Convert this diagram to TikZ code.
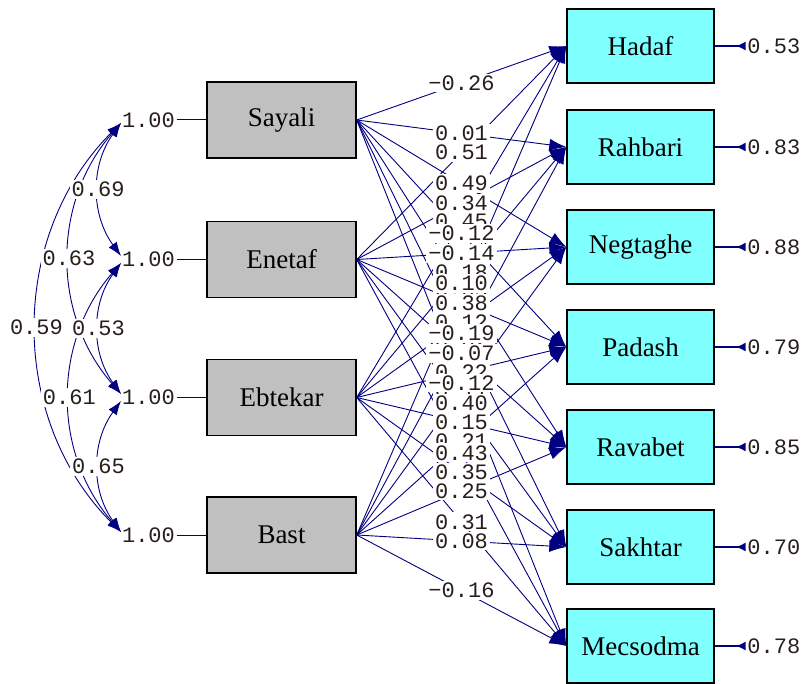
\documentclass[tikz,border=0pt]{standalone}
\usepackage{fontspec}
\setmainfont{Liberation Serif}
\newfontfamily\numfont{Liberation Mono}
\usetikzlibrary{arrows.meta}
\definecolor{navy}{RGB}{0,0,128}
\definecolor{boxgray}{RGB}{192,192,192}
\definecolor{boxcyan}{RGB}{128,255,255}
\definecolor{numtext}{RGB}{40,30,30}
\begin{document}
\begin{tikzpicture}[x=1pt,y=-1pt,
  srcbox/.style={draw=black,line width=1.4pt,fill=boxgray,minimum width=149pt,minimum height=76pt,inner sep=0pt,font=\fontsize{27}{30}\selectfont},
  tgtbox/.style={draw=black,line width=1.4pt,fill=boxcyan,minimum width=147pt,minimum height=74pt,inner sep=0pt,font=\fontsize{27}{30}\selectfont},
  numlabel/.style={font=\numfont\fontsize{22}{24}\selectfont,text=numtext,inner sep=1.5pt},
  plabel/.style={numlabel,fill=white,inner sep=2pt},
  pathline/.style={draw=navy,line width=0.9pt,-{Latex[length=17pt,width=12pt]}},
  covline/.style={draw=navy,line width=0.9pt,{Latex[length=14pt,width=10pt]}-{Latex[length=14pt,width=10pt]}},
  clabel/.style={numlabel,fill=white,inner sep=2pt},
  errline/.style={draw=navy,line width=1.6pt,{Latex[reversed,length=10pt,width=9pt]}-},
  varline/.style={draw=navy,line width=1pt}
]
\useasboundingbox (0,0) rectangle (806,684);

% source boxes
\node[srcbox] (S)  at (281.5,120)   {Sayali};
\node[srcbox] (E)  at (281.5,259.5) {Enetaf};
\node[srcbox] (Eb) at (281.5,397.5) {Ebtekar};
\node[srcbox] (B)  at (281.5,535)   {Bast};

% target boxes
\node[tgtbox] (H)  at (640.5,46)  {Hadaf};
\node[tgtbox] (R)  at (640.5,147) {Rahbari};
\node[tgtbox] (N)  at (640.5,247) {Negtaghe};
\node[tgtbox] (P)  at (640.5,347) {Padash};
\node[tgtbox] (Rv) at (640.5,447) {Ravabet};
\node[tgtbox] (Sk) at (640.5,547) {Sakhtar};
\node[tgtbox] (M)  at (640.5,646) {Mecsodma};

% variances
\foreach \v in {S,E,Eb,B}{
  \node[numlabel] (var\v) at ([xshift=-133pt]\v.center) {1.00};
  \draw[varline] (var\v.east) -- (\v.west);
}

% error terms
\foreach \t/\e in {H/0.53,R/0.83,N/0.88,P/0.79,Rv/0.85,Sk/0.70,M/0.78}{
  \node[numlabel,anchor=west] (err\t) at ([xshift=31pt]\t.east) {\e};
  \draw[errline] (err\t.west) -- (\t.east);
}

% covariance anchor points
\coordinate (Sbot) at (121,123);
\coordinate (Etop) at (121,256);
\coordinate (Ebot) at (121,263);
\coordinate (Ebtop) at (121,394);
\coordinate (Ebbot) at (121,401);
\coordinate (Btop) at (121,532);

\draw[covline] (Sbot) to[bend right=45] node[clabel] {0.59} (Btop);
\draw[covline] (Sbot) to[bend right=41] node[clabel] {0.63} (Ebtop);
\draw[covline] (Ebot) to[bend right=41] node[clabel] {0.61} (Btop);
\draw[covline] (Sbot) to[bend right=36] node[clabel] {0.69} (Etop);
\draw[covline] (Ebot) to[bend right=36] node[clabel] {0.53} (Ebtop);
\draw[covline] (Ebbot) to[bend right=36] node[clabel] {0.65} (Btop);

% paths
\foreach \s in {B,Eb,E,S}{
  \foreach \t in {H,R,N,P,Rv,Sk,M}{
    \draw[pathline] (\s.east) -- (\t.west);
  }
}

% path labels (drawn from bottom layer to top layer)
\foreach \s/\t/\v in {
  B/H/0.05, B/R/0.02, B/N/0.11, B/P/0.21, B/Rv/0.25, B/Sk/0.08, B/M/−0.16,
  Eb/H/0.45, Eb/R/0.18, Eb/N/0.12, Eb/P/0.22, Eb/Rv/0.15, Eb/Sk/0.35, Eb/M/0.31,
  E/H/0.51, E/R/0.34, E/N/−0.14, E/P/0.38, E/Rv/−0.07, E/Sk/0.40, E/M/0.43,
  S/H/−0.26, S/R/0.01, S/N/0.49, S/P/−0.12, S/Rv/0.10, S/Sk/−0.19, S/M/−0.12}{
  \path (\s.east) -- (\t.west) node[plabel,pos=0.5] (l\s\t) {\v};
}
\end{tikzpicture}
\end{document}
